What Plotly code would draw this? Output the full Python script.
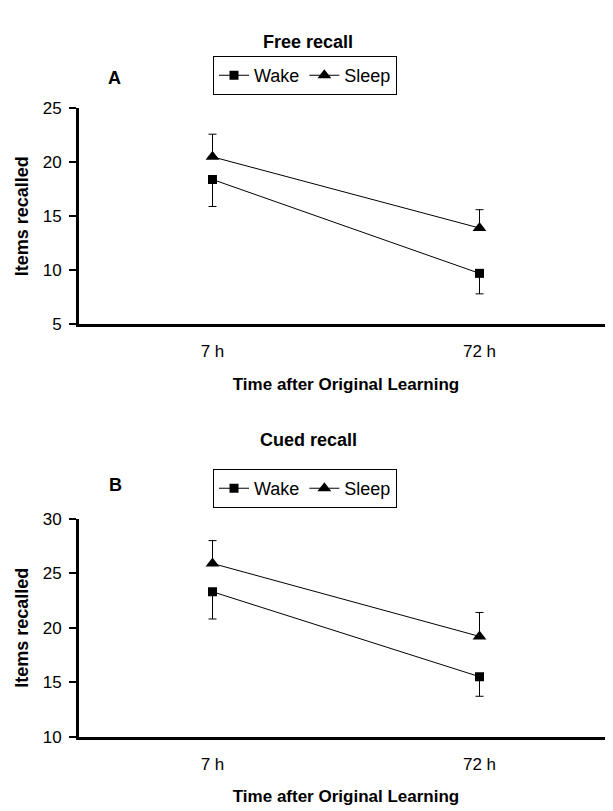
import plotly.graph_objects as go

# Page body has an 8px default margin, so the figure is drawn 8px in.
OFF = 8
W, H = 613 - OFF, 811 - OFF

times = ["7 h", "72 h"]
x_pos = [0, 1]

# Panel A: Free recall
free_wake = [18.4, 9.7]
free_wake_err = [2.5, 1.9]
free_sleep = [20.5, 13.9]
free_sleep_err = [2.1, 1.7]

# Panel B: Cued recall
cued_wake = [23.3, 15.5]
cued_wake_err = [2.5, 1.8]
cued_sleep = [25.9, 19.2]
cued_sleep_err = [2.1, 2.2]

yticks_a = [5, 10, 15, 20, 25]
yticks_b = [10, 15, 20, 25, 30]

FONT = "Arial, Liberation Sans, sans-serif"

def py(pix):
    return 1 - (pix - OFF) / H

def px(pix):
    return (pix - OFF) / W

fig = go.Figure()

def add_series(y, err, name, symbol, size, xa, ya, legend, up):
    zeros = [0] * len(err)
    fig.add_trace(go.Scatter(
        x=x_pos, y=y, name=name, mode="lines+markers",
        line=dict(color="black", width=1),
        marker=dict(symbol=symbol, size=size, color="black"),
        error_y=dict(type="data", symmetric=False,
                     array=err if up else zeros,
                     arrayminus=zeros if up else err,
                     color="black", thickness=1, width=4),
        xaxis=xa, yaxis=ya, legend=legend,
    ))

add_series(free_wake, free_wake_err, "Wake", "square", 9, "x", "y", "legend", False)
add_series(free_sleep, free_sleep_err, "Sleep", "triangle-up", 12, "x", "y", "legend", True)
add_series(cued_wake, cued_wake_err, "Wake", "square", 9, "x2", "y2", "legend2", False)
add_series(cued_sleep, cued_sleep_err, "Sleep", "triangle-up", 12, "x2", "y2", "legend2", True)

xaxis_common = dict(
    range=[-0.5, 1.5], tickvals=x_pos, ticktext=times, ticks="",
    showline=True, linecolor="black", linewidth=3, showgrid=False, zeroline=False,
    tickfont=dict(family=FONT, size=17, color="black"), ticklabelstandoff=10,
    title=dict(text="<b>Time after Original Learning</b>",
               font=dict(family=FONT, size=17, color="black"), standoff=18),
    domain=[px(79), 1.0],
)
yaxis_common = dict(
    showline=True, linecolor="black", linewidth=3, showgrid=False, zeroline=False,
    ticks="outside", ticklen=7, tickwidth=1.5, tickcolor="black",
    tickfont=dict(family=FONT, size=17, color="black"), ticklabelstandoff=4,
    title=dict(text="<b>Items recalled</b>",
               font=dict(family=FONT, size=18, color="black"), standoff=10),
)

legend_common = dict(
    orientation="h", xanchor="left", yanchor="top",
    bordercolor="black", borderwidth=1, itemwidth=30,
    font=dict(family=FONT, size=18, color="black"), bgcolor="white",
)

fig.update_layout(
    width=W, height=H,
    margin=dict(l=0, r=0, t=0, b=0),
    paper_bgcolor="white", plot_bgcolor="white",
    xaxis=dict(**xaxis_common, anchor="y"),
    yaxis=dict(**yaxis_common, range=[5, 25], tickvals=yticks_a,
               domain=[py(322.5), py(101.5)], anchor="x"),
    xaxis2=dict(**xaxis_common, anchor="y2"),
    yaxis2=dict(**yaxis_common, range=[10, 30], tickvals=yticks_b,
                domain=[py(745), py(522)], anchor="x2"),
    legend=dict(**legend_common, x=px(213), y=py(48)),
    legend2=dict(**legend_common, x=px(213), y=py(471)),
    showlegend=True,
    annotations=[
        dict(text="<b>Free recall</b>", x=px(308), y=py(21), xref="paper", yref="paper",
             showarrow=False, font=dict(family=FONT, size=18, color="black")),
        dict(text="<b>A</b>", x=px(106), y=py(58), xref="paper", yref="paper",
             showarrow=False, font=dict(family=FONT, size=18, color="black")),
        dict(text="<b>Cued recall</b>", x=px(308), y=py(441), xref="paper", yref="paper",
             showarrow=False, font=dict(family=FONT, size=18, color="black")),
        dict(text="<b>B</b>", x=px(107), y=py(487), xref="paper", yref="paper",
             showarrow=False, font=dict(family=FONT, size=18, color="black")),
    ],
)

fig.write_html("out.html")
